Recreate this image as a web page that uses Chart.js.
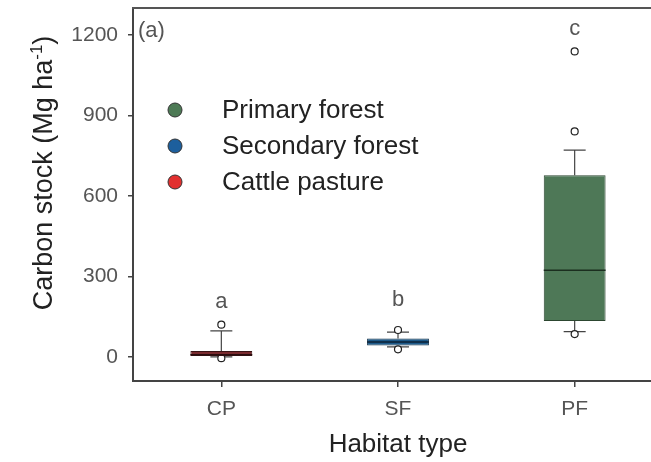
<!DOCTYPE html>
<html>
<head>
<meta charset="utf-8">
<script src="https://cdn.jsdelivr.net/npm/chart.js@4"></script>
<style>
  html, body { margin: 0; padding: 0; background: #fff; overflow: hidden; }
  #wrap { width: 680px; height: 462px; }
</style>
</head>
<body>
<div id="wrap"><canvas id="boxChart" width="680" height="462"></canvas></div>
<script>
// box plot of carbon stock per habitat type

const categories = ['CP', 'SF', 'PF'];
const q1 = [0, 42, 134];
const median = [8, 55, 323];
const q3 = [22, 68, 677];
const whiskerLow = [0, 37, 94];
const whiskerHigh = [97, 92, 770];
const outlierCat = ['CP', 'CP', 'SF', 'SF', 'PF', 'PF', 'PF'];
const outlierVal = [120, -5, 100, 28, 85, 840, 1138];
const sigLetters = ['a', 'b', 'c'];
const sigPos = [204, 212, 1223];
const yTicks = [0, 300, 600, 900, 1200];

const legendLabels = ['Primary forest', 'Secondary forest', 'Cattle pasture'];
const legendColors = ['#4d7a55', '#1d5f9d', '#e2302f'];

const boxFill = ['#7a2b2f', '#1d5a8a', '#4e7857'];
const boxEdge = ['#3a1416', '#10304a', '#2c4630'];
const medianColor = ['#2a0d0e', '#0b2236', '#1b2e1f'];

const FONT = 'Arial, "Liberation Sans", sans-serif';

const extrasPlugin = {
    id: 'extras',
    beforeDatasetsDraw(chart) {
        const { ctx, scales: { x, y } } = chart;
        ctx.save();
        ctx.strokeStyle = '#444';
        ctx.lineWidth = 1.2;
        categories.forEach((c, i) => {
            const cx = x.getPixelForValue(i);
            const cap = 11;
            ctx.beginPath();
            ctx.moveTo(cx, y.getPixelForValue(q3[i]));
            ctx.lineTo(cx, y.getPixelForValue(whiskerHigh[i]));
            ctx.moveTo(cx - cap, y.getPixelForValue(whiskerHigh[i]));
            ctx.lineTo(cx + cap, y.getPixelForValue(whiskerHigh[i]));
            ctx.moveTo(cx, y.getPixelForValue(q1[i]));
            ctx.lineTo(cx, y.getPixelForValue(whiskerLow[i]));
            ctx.moveTo(cx - cap, y.getPixelForValue(whiskerLow[i]));
            ctx.lineTo(cx + cap, y.getPixelForValue(whiskerLow[i]));
            ctx.stroke();
        });
        ctx.restore();
    },
    afterDatasetsDraw(chart) {
        const { ctx, chartArea, scales: { x, y } } = chart;
        const meta = chart.getDatasetMeta(0);
        ctx.save();

        // medians
        categories.forEach((c, i) => {
            const bar = meta.data[i];
            const half = bar.width / 2;
            const my = y.getPixelForValue(median[i]);
            ctx.strokeStyle = medianColor[i];
            ctx.lineWidth = 1.5;
            ctx.beginPath();
            ctx.moveTo(bar.x - half, my);
            ctx.lineTo(bar.x + half, my);
            ctx.stroke();
        });

        // significance letters
        ctx.fillStyle = '#555';
        ctx.font = '22px ' + FONT;
        ctx.textAlign = 'center';
        ctx.textBaseline = 'middle';
        sigLetters.forEach((l, i) => {
            ctx.fillText(l, x.getPixelForValue(i), y.getPixelForValue(sigPos[i]));
        });

        // panel label
        ctx.textAlign = 'left';
        ctx.font = '22px ' + FONT;
        ctx.fillText('(a)', chartArea.left + 5, chartArea.top + 23);

        // top frame line
        ctx.strokeStyle = '#555';
        ctx.lineWidth = 2;
        ctx.beginPath();
        ctx.moveTo(chartArea.left - 1, chartArea.top);
        ctx.lineTo(chartArea.right, chartArea.top);
        ctx.stroke();

        // legend
        ctx.font = '26px ' + FONT;
        ctx.textBaseline = 'middle';
        legendLabels.forEach((lab, i) => {
            const ly = 110 + i * 36;
            ctx.beginPath();
            ctx.arc(175, ly, 7, 0, Math.PI * 2);
            ctx.fillStyle = legendColors[i];
            ctx.fill();
            ctx.strokeStyle = '#333';
            ctx.lineWidth = 1;
            ctx.stroke();
            ctx.fillStyle = '#222';
            ctx.fillText(lab, 222, ly + 1);
        });

        // axis titles
        ctx.fillStyle = '#222';
        ctx.font = '26px ' + FONT;
        ctx.textAlign = 'center';
        ctx.textBaseline = 'alphabetic';
        ctx.fillText('Habitat type', (chartArea.left + chartArea.right) / 2, 452);

        ctx.translate(52, 173);
        ctx.rotate(-Math.PI / 2);
        const main = 'Carbon stock (Mg ha';
        const sup = '-1';
        const close = ')';
        ctx.font = '27px ' + FONT;
        const wMain = ctx.measureText(main).width;
        const wClose = ctx.measureText(close).width;
        ctx.font = '17px ' + FONT;
        const wSup = ctx.measureText(sup).width;
        let sx = -(wMain + wSup + wClose) / 2;
        ctx.textAlign = 'left';
        ctx.font = '27px ' + FONT;
        ctx.fillText(main, sx, 0);
        sx += wMain;
        ctx.font = '17px ' + FONT;
        ctx.fillText(sup, sx, -10);
        sx += wSup;
        ctx.font = '27px ' + FONT;
        ctx.fillText(close, sx, 0);

        ctx.restore();
    }
};

const ctx = document.getElementById('boxChart');

new Chart(ctx, {
    type: 'bar',
    data: {
        labels: categories,
        datasets: [{
            label: 'box',
            data: categories.map((c, i) => [q1[i], q3[i]]),
            backgroundColor: boxFill,
            borderColor: boxEdge,
            borderWidth: 1,
            borderSkipped: false,
            barPercentage: 0.35,
            categoryPercentage: 1
        }, {
            type: 'scatter',
            label: 'outliers',
            data: outlierCat.map((c, i) => ({ x: c, y: outlierVal[i] })),
            pointRadius: 3.5,
            pointBackgroundColor: '#fff',
            pointBorderColor: '#222',
            pointBorderWidth: 1.2
        }]
    },
    options: {
        responsive: false,
        animation: false,
        layout: {
            padding: { left: 0, right: 17, top: 8, bottom: 0 }
        },
        plugins: {
            legend: { display: false },
            tooltip: { enabled: false }
        },
        scales: {
            x: {
                type: 'category',
                offset: true,
                afterFit: function(scale) {
                    scale.height = 81;
                    scale.paddingLeft = 0;
                    scale.paddingRight = 0;
                },
                grid: {
                    offset: false,
                    drawOnChartArea: false,
                    drawTicks: true,
                    tickLength: 6,
                    color: '#444',
                    lineWidth: 1.5
                },
                border: { display: true, color: '#444', width: 2 },
                ticks: {
                    color: '#555',
                    padding: 10,
                    font: { family: FONT, size: 21 }
                }
            },
            y: {
                min: -90,
                max: 1300,
                afterFit: function(scale) {
                    scale.width = 133;
                    scale.paddingTop = 0;
                    scale.paddingBottom = 0;
                },
                afterBuildTicks: function(scale) {
                    scale.ticks = yTicks.map(v => ({ value: v }));
                },
                grid: {
                    drawOnChartArea: false,
                    drawTicks: true,
                    tickLength: 5,
                    color: '#444',
                    lineWidth: 1.5
                },
                border: { display: true, color: '#444', width: 2 },
                ticks: {
                    color: '#555',
                    padding: 10,
                    font: { family: FONT, size: 21 },
                    callback: function(value) { return String(value); }
                }
            }
        }
    },
    plugins: [extrasPlugin]
});
</script>
</body>
</html>
